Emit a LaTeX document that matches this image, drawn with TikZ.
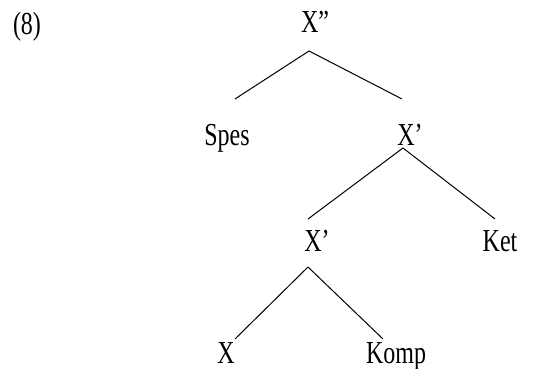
\documentclass[tikz,border=0pt]{standalone}
\usepackage{fontspec}
\setmainfont[FakeStretch=0.75]{Liberation Serif}
\usetikzlibrary{positioning, calc}

\begin{document}
\begin{tikzpicture}[x=1pt, y=-1pt,
            cat/.style={inner sep=0pt, anchor=base, font=\fontsize{32}{32}\selectfont},
            edge/.style={black, line width=1pt}]
            \useasboundingbox (0,0) rectangle (536,369);
            % Example number
            \node[cat] (num) at (27,35) {(8)};
            % Categories
            \node[cat] (root) at (315,33) {X”};
            \node[cat] (spes) at (227,146) {Spes};
            \node[cat] (xa) at (410,146) {X’};
            \node[cat] (xb) at (317,251) {X’};
            \node[cat] (ket) at (500,251) {Ket};
            \node[cat] (head) at (226,363) {X};
            \node[cat] (komp) at (396,363) {Komp};
            % Branches
            \draw[edge] ($(root.base)+(-6,18)$) -- ($(spes.base)+(8,-47)$);
            \draw[edge] ($(root.base)+(-6,18)$) -- ($(xa.base)+(-8,-47)$);
            \draw[edge] ($(xa.base)+(-7,2)$) -- ($(xb.base)+(-9,-32)$);
            \draw[edge] ($(xa.base)+(-7,2)$) -- ($(ket.base)+(-5,-32)$);
            \draw[edge] ($(xb.base)+(-9,16)$) -- ($(head.base)+(9,-24)$);
            \draw[edge] ($(xb.base)+(-9,16)$) -- ($(komp.base)+(-13,-24)$);
\end{tikzpicture}
\end{document}
